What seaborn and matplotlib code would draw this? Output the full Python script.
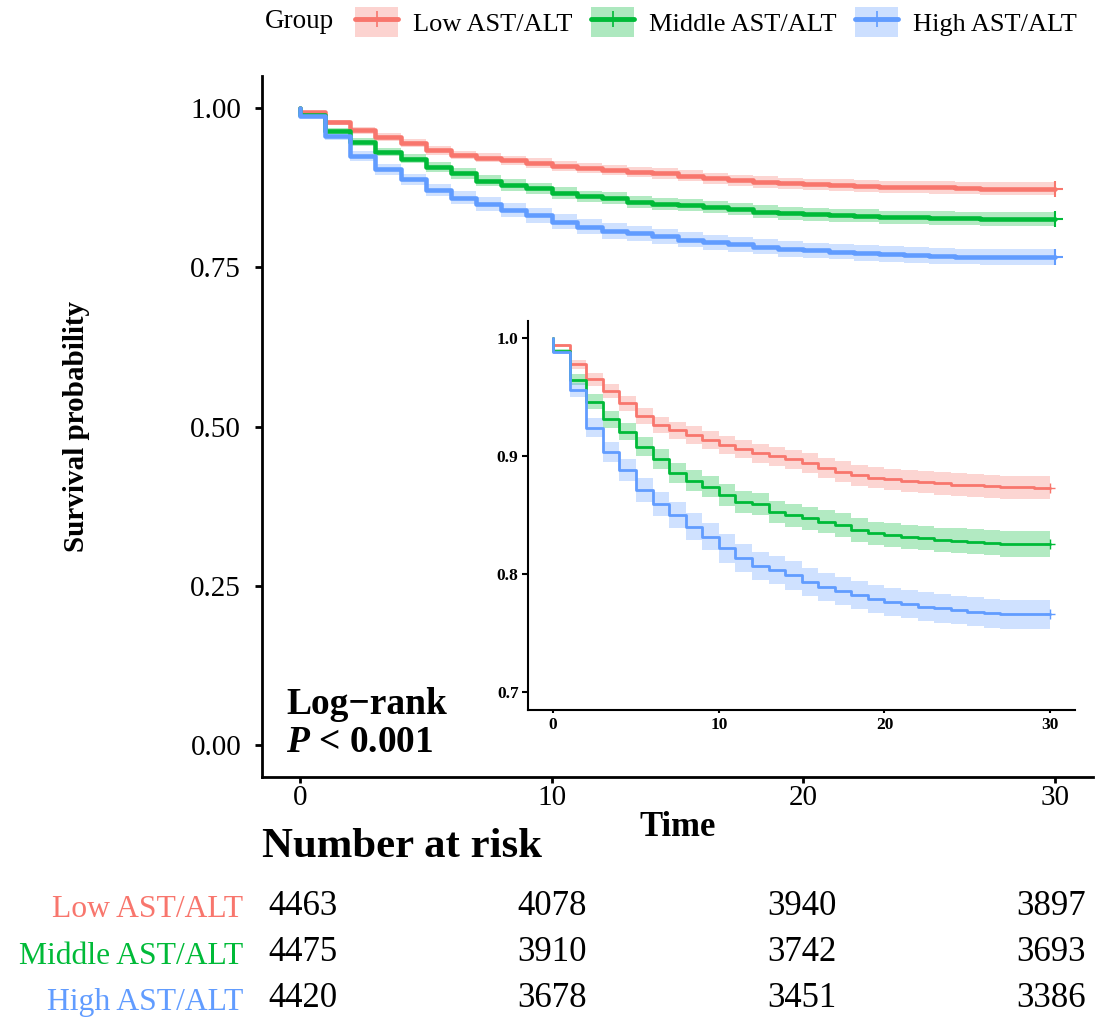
import numpy as np
import pandas as pd
import matplotlib
matplotlib.use("Agg")
import matplotlib.pyplot as plt
import seaborn as sns
from matplotlib.patches import Patch
from matplotlib.lines import Line2D
from matplotlib.legend_handler import HandlerTuple

# ---------------- data ----------------
groups = ["Low AST/ALT", "Middle AST/ALT", "High AST/ALT"]
colors = ["#F8766D", "#00BA38", "#619CFF"]
times = list(range(31))

surv_low = [0.994, 0.978, 0.9655, 0.955, 0.945, 0.934, 0.9265, 0.922, 0.918, 0.914,
            0.9096, 0.906, 0.9025, 0.900, 0.8975, 0.894, 0.890, 0.887, 0.884, 0.882,
            0.8805, 0.879, 0.878, 0.877, 0.876, 0.8755, 0.8746, 0.8737, 0.8737, 0.8735, 0.8735]
surv_mid = [0.9895, 0.965, 0.9463, 0.9313, 0.9209, 0.908, 0.8975, 0.886, 0.8793, 0.8742,
            0.8672, 0.8615, 0.8593, 0.853, 0.850, 0.8475, 0.8446, 0.8418, 0.8375, 0.8347,
            0.8333, 0.8319, 0.831, 0.829, 0.8285, 0.8277, 0.8268, 0.8257, 0.8257, 0.8255, 0.8255]
surv_high = [0.988, 0.956, 0.9243, 0.904, 0.8884, 0.8714, 0.8596, 0.8502, 0.8403, 0.8319,
             0.822, 0.814, 0.807, 0.8036, 0.799, 0.7937, 0.7895, 0.786, 0.7825, 0.779,
             0.7768, 0.7749, 0.7726, 0.7712, 0.7697, 0.7683, 0.767, 0.7661, 0.766, 0.766, 0.766]

ci_low = [0.0012, 0.004, 0.0055, 0.006, 0.0065, 0.007, 0.007, 0.0072, 0.0073, 0.0074,
          0.0075, 0.0076, 0.0078, 0.008, 0.0082, 0.0084, 0.0086, 0.0088, 0.0089, 0.009,
          0.009, 0.0092, 0.0093, 0.0094, 0.0095, 0.0096, 0.0097, 0.0098, 0.0099, 0.010, 0.010]
ci_mid = [0.0016, 0.0045, 0.0062, 0.007, 0.0075, 0.008, 0.0083, 0.0086, 0.0088, 0.009,
          0.009, 0.0092, 0.0093, 0.0094, 0.0095, 0.0096, 0.0097, 0.0098, 0.0099, 0.0099,
          0.010, 0.0101, 0.0102, 0.0103, 0.0104, 0.0105, 0.0106, 0.0107, 0.0108, 0.011, 0.011]
ci_high = [0.0016, 0.006, 0.0078, 0.0085, 0.009, 0.0099, 0.0105, 0.011, 0.0113, 0.0116,
           0.012, 0.012, 0.012, 0.012, 0.012, 0.012, 0.012, 0.012, 0.012, 0.012,
           0.012, 0.0121, 0.0121, 0.0122, 0.0122, 0.0123, 0.0123, 0.0124, 0.0124, 0.0124, 0.0124]

risk_times = [0, 10, 20, 30]
risk_low = [4463, 4078, 3940, 3897]
risk_mid = [4475, 3910, 3742, 3693]
risk_high = [4420, 3678, 3451, 3386]

surv_all = [surv_low, surv_mid, surv_high]
ci_all = [ci_low, ci_mid, ci_high]
risk_all = [risk_low, risk_mid, risk_high]

rows = []
for g, s in zip(groups, surv_all):
    rows.append({"group": g, "time": times[0], "surv": 1.0})
    for t, v in zip(times, s):
        rows.append({"group": g, "time": t, "surv": v})
df = pd.DataFrame(rows)

# ---------------- style ----------------
sns.set_style("white")
plt.rcParams["font.family"] = ["Liberation Serif", "DejaVu Serif"]
plt.rcParams["mathtext.fontset"] = "custom"
plt.rcParams["mathtext.it"] = "Liberation Serif:italic:bold"
plt.rcParams["mathtext.rm"] = "Liberation Serif:bold"
for k in ["text.color", "axes.labelcolor", "xtick.color", "ytick.color", "axes.edgecolor"]:
    plt.rcParams[k] = "black"

W, H = 1103, 1019
fig = plt.figure(figsize=(W / 100, H / 100), dpi=100)
fig.patch.set_facecolor("white")


def px(l, t, r, b):
    return [l / W, 1 - b / H, (r - l) / W, (b - t) / H]


def draw_km(ax, lw, ms, mew):
    for g, c, s, ci in zip(groups, colors, surv_all, ci_all):
        lo = [v - e for v, e in zip(s, ci)]
        hi = [v + e for v, e in zip(s, ci)]
        ax.fill_between(times, lo, hi, step="post", color=c, alpha=0.3, lw=0, zorder=1)
    sns.lineplot(data=df, x="time", y="surv", hue="group", hue_order=groups,
                 palette=colors, estimator=None, sort=False, errorbar=None,
                 drawstyle="steps-post", linewidth=lw, legend=False, ax=ax, zorder=2)
    for c, s in zip(colors, surv_all):
        ax.plot([times[-1]], [s[-1]], marker="+", ms=ms, mew=mew, color=c,
                linestyle="none", zorder=3)


# ---------------- main plot ----------------
ax = fig.add_axes(px(262, 76.4, 1093, 776.7))
draw_km(ax, 3.3, 12, 1.5)
ax.set_xlim(-1.5, 31.5)
ax.set_ylim(-0.05, 1.05)
ax.set_xticks([0, 10, 20, 30])
ax.set_xticklabels(["0", "10", "20", "30"])
ax.set_yticks([0, 0.25, 0.5, 0.75, 1.0])
ax.set_yticklabels(["0.00", "0.25", "0.50", "0.75", "1.00"])
for sp in ["top", "right"]:
    ax.spines[sp].set_visible(False)
for sp in ["left", "bottom"]:
    ax.spines[sp].set_linewidth(2)
    ax.spines[sp].set_color("black")
ax.tick_params(axis="y", length=5, width=2, labelsize=21, pad=10, colors="black", left=True)
ax.tick_params(axis="x", length=4, width=2, labelsize=21, pad=2, colors="black", bottom=True)
ax.set_xlabel("Time", fontsize=25, fontweight="bold", va="center")
ax.xaxis.set_label_coords(0.5, (776.7 - 828) / 700.3)
ax.set_ylabel("Survival probability", fontsize=21, fontweight="bold", va="center")
ax.yaxis.set_label_coords((77 - 262) / 831, 0.5)

ax.text((286 - 262) / 831, (776.7 - 704) / 700.3, "Log\u2212rank", transform=ax.transAxes,
        fontsize=27, fontweight="bold", ha="left", va="center")
ax.text((286 - 262) / 831, (776.7 - 743) / 700.3, r"$P$ < 0.001", transform=ax.transAxes,
        fontsize=27, fontweight="bold", ha="left", va="center")

# ---------------- inset ----------------
ax2 = fig.add_axes(px(528.3, 320.6, 1075, 710))
ax2.set_facecolor("white")
draw_km(ax2, 2.0, 7, 1.0)
ax2.set_xlim(-1.5, 31.5)
ax2.set_ylim(0.685, 1.015)
ax2.set_xticks([0, 10, 20, 30])
ax2.set_xticklabels(["0", "10", "20", "30"])
ax2.set_yticks([0.7, 0.8, 0.9, 1.0])
ax2.set_yticklabels(["0.7", "0.8", "0.9", "1.0"])
for sp in ["top", "right"]:
    ax2.spines[sp].set_visible(False)
for sp in ["left", "bottom"]:
    ax2.spines[sp].set_linewidth(1.5)
    ax2.spines[sp].set_color("black")
ax2.set_xlabel("")
ax2.set_ylabel("")
ax2.tick_params(axis="y", length=4, width=1.5, labelsize=12.5, pad=3, left=True)
ax2.tick_params(axis="x", length=2.5, width=1.5, labelsize=12.5, pad=2.5, bottom=True)
for lab in ax2.get_xticklabels() + ax2.get_yticklabels():
    lab.set_fontweight("bold")

# ---------------- legend ----------------
handles = []
for c in colors:
    handles.append((Patch(facecolor=c, alpha=0.32, edgecolor="none"),
                    Line2D([], [], color=c, lw=3.5, marker="+", ms=12, mew=1.2)))
fig.legend(handles, groups, handler_map={tuple: HandlerTuple(ndivide=1, pad=0)},
           loc="center left", bbox_to_anchor=(355 / W, 1 - 22 / H), ncol=3,
           frameon=False, fontsize=19, handlelength=1.63, handleheight=1.4,
           handletextpad=0.57, columnspacing=0.7, borderpad=0, borderaxespad=0,
           numpoints=1)
fig.text(265 / W, 1 - 22 / H, "Group", fontsize=19.5, ha="left", va="center")

# ---------------- risk table ----------------
fig.text(262 / W, 1 - 847 / H, "Number at risk", fontsize=30.8, fontweight="bold",
         ha="left", va="center")
axt = fig.add_axes(px(265.9, 883, 1088, 1022))
axt.set_xlim(-1.5, 31.5)
axt.set_ylim(0, 3)
row_y = [2.5, 1.5, 0.5]
for y, counts in zip(row_y, risk_all):
    for t, n in zip(risk_times, counts):
        axt.text(t, y, str(n), ha="center", va="center", fontsize=25, color="black")
axt.set_yticks(row_y)
axt.set_yticklabels(groups)
for lab, c in zip(axt.get_yticklabels(), colors):
    lab.set_color(c)
axt.tick_params(axis="y", length=0, labelsize=22.8, pad=16.5)
axt.set_xticks([])
for sp in axt.spines.values():
    sp.set_visible(False)
axt.patch.set_alpha(0)

fig.savefig("out.png", dpi=100, facecolor="white")
